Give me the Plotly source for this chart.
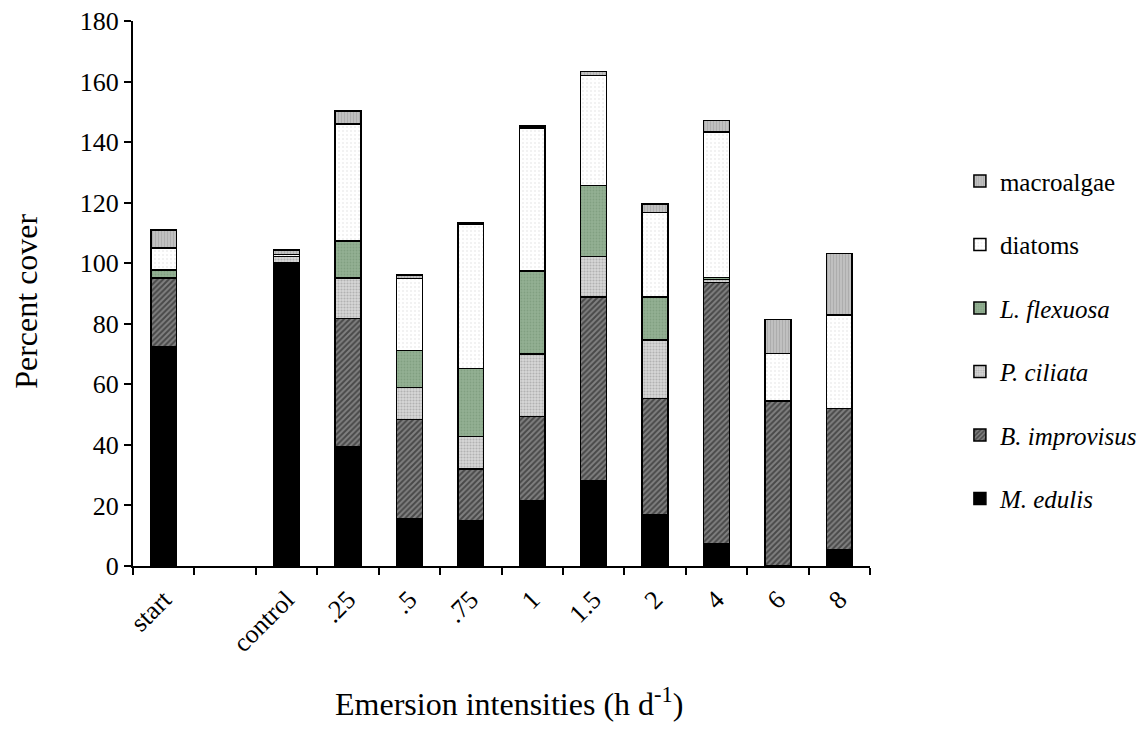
import plotly.graph_objects as go

categories = ["start", "", "control", ".25", ".5", ".75", "1", "1.5", "2", "4", "6", "8"]

m_edulis      = [72.5, None, 99.5, 39.4, 15.5, 15.0, 21.5, 28.2, 16.8, 7.3, 0.0, 5.5]
b_improvisus  = [22.5, None, 0.5, 42.4, 32.9, 17.1, 27.9, 60.7, 38.5, 86.3, 54.3, 46.6]
p_ciliata     = [0.3, None, 2.3, 13.4, 10.6, 10.6, 20.7, 13.3, 19.3, 1.0, 0.3, 0.0]
l_flexuosa    = [2.4, None, 0.0, 12.2, 12.1, 22.6, 27.3, 23.4, 14.3, 0.7, 0.0, 0.0]
diatoms       = [7.3, None, 0.5, 38.6, 23.9, 47.6, 47.2, 36.4, 27.8, 48.1, 15.6, 30.8]
macroalgae    = [5.9, None, 1.5, 4.3, 1.1, 0.5, 0.7, 1.3, 2.8, 3.8, 11.2, 20.3]

series = [
    ("<i>M. edulis</i>", m_edulis, dict(color="#000000")),
    ("<i>B. improvisus</i>", b_improvisus, dict(color="#505050", pattern=dict(shape="/", fgcolor="#111111", bgcolor="#808080", size=4, solidity=0.5))),
    ("<i>P. ciliata</i>", p_ciliata, dict(color="#c4c4c4", pattern=dict(shape=".", fgcolor="#8c8c8c", bgcolor="#d8d8d8", size=3, solidity=0.4))),
    ("<i>L. flexuosa</i>", l_flexuosa, dict(color="#87a587", pattern=dict(shape=".", fgcolor="#6f8f6f", bgcolor="#93b093", size=3, solidity=0.3))),
    ("diatoms", diatoms, dict(color="#ffffff", pattern=dict(shape=".", fgcolor="#dddddd", bgcolor="#ffffff", size=4, solidity=0.2))),
    ("macroalgae", macroalgae, dict(color="#b4b4b4", pattern=dict(shape="|", fgcolor="#999999", bgcolor="#c0c0c0", size=3, solidity=0.35))),
]

# category positions on a linear axis (index of each category)
xpos = list(range(len(categories)))
label_pos = [p for p, c in zip(xpos, categories) if c]
label_txt = [c for c in categories if c]
boundaries = [p - 0.5 for p in xpos] + [xpos[-1] + 0.5]

fig = go.Figure()
n = len(series)
for i, (name, vals, mk) in enumerate(series):
    mk = dict(mk)
    mk["line"] = dict(color="#000000", width=1.5)
    fig.add_trace(go.Bar(
        x=xpos, y=vals, name=name, marker=mk,
        legendgroup=f"g{i}", legendrank=n - i,
    ))

font_family = "Liberation Serif"

fig.update_layout(
    width=1144, height=742,
    barmode="stack", bargap=0.58,
    plot_bgcolor="white", paper_bgcolor="white",
    margin=dict(l=133, r=274, t=21, b=176, autoexpand=False),
    font=dict(family=font_family, color="black", size=26),
    showlegend=True,
    legend=dict(
        x=1.122, xanchor="left", y=0.415, yanchor="middle",
        traceorder="grouped", tracegroupgap=28,
        font=dict(family=font_family, size=25, color="black"),
        itemwidth=30,
        bgcolor="rgba(0,0,0,0)",
    ),
    xaxis=dict(
        type="linear", range=[boundaries[0], boundaries[-1]],
        tickmode="array", tickvals=label_pos, ticktext=label_txt,
        ticks="", showline=True, linecolor="black", linewidth=2,
        showgrid=False, zeroline=False, tickangle=-45, ticklabelstandoff=6,
        tickfont=dict(family=font_family, size=26, color="black"),
        minor=dict(tickmode="array", tickvals=boundaries, ticks="outside",
                   ticklen=7, tickwidth=2, tickcolor="black", showgrid=False),
    ),
    yaxis=dict(
        range=[0, 180], tick0=0, dtick=20,
        ticks="outside", ticklen=7, tickwidth=2, tickcolor="black",
        showline=True, linecolor="black", linewidth=2,
        showgrid=False, zeroline=False,
        tickfont=dict(family=font_family, size=26, color="black"),
    ),
    annotations=[
        dict(text="Percent cover", xref="paper", yref="paper", x=-0.145, y=0.485,
             xanchor="center", yanchor="middle", textangle=-90, showarrow=False,
             font=dict(family=font_family, size=32, color="black")),
        dict(text="Emersion intensities (h d<sup>-1</sup>)", xref="paper", yref="paper",
             x=0.51, y=-0.25, xanchor="center", yanchor="middle", showarrow=False,
             font=dict(family=font_family, size=32, color="black")),
    ],
)

fig.write_html("out.html")
